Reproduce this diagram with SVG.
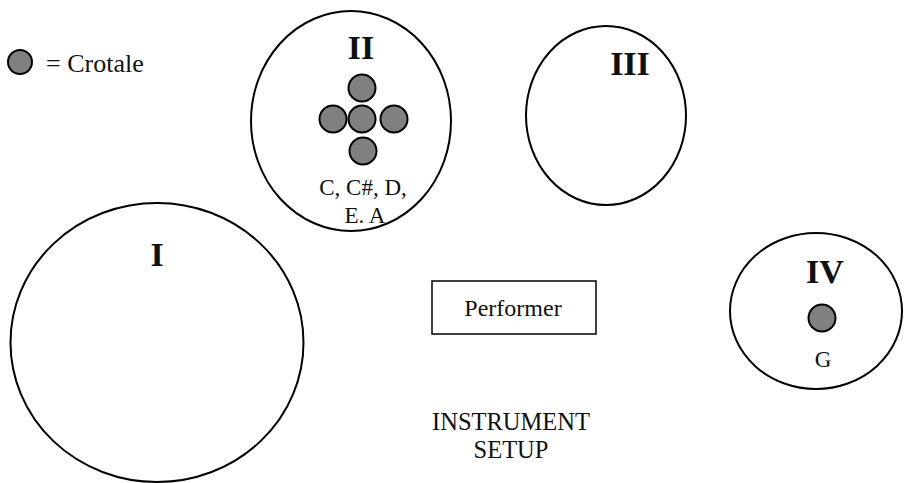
<svg xmlns="http://www.w3.org/2000/svg" width="904" height="483" viewBox="0 0 904 483">
<style>
.area{fill:none;stroke:#000;stroke-width:2}
.crot{fill:#808080;stroke:#000;stroke-width:2}
.t{font-family:"Liberation Serif","Times New Roman",serif;fill:#111}
.num{font-family:"Liberation Serif",serif;font-weight:bold;font-size:34px;text-anchor:middle;fill:#111}
.lab{font-size:23px;text-anchor:middle}
</style>
<rect width="904" height="483" fill="#fff"/>
<g id="legend">
<circle class="crot" cx="20" cy="62" r="12"/>
<text class="t" x="46" y="72" font-size="26">= Crotale</text>
</g>
<g id="area-I">
<ellipse class="area" cx="157" cy="342.5" rx="146.5" ry="139.5"/>
<text class="num" x="157" y="266">I</text>
</g>
<g id="area-II">
<ellipse class="area" cx="351" cy="121" rx="100" ry="110"/>
<text class="num" x="361" y="59">II</text>
<circle class="crot" cx="362" cy="88" r="13.5"/>
<circle class="crot" cx="333" cy="119" r="13.5"/>
<circle class="crot" cx="362" cy="119" r="13.5"/>
<circle class="crot" cx="394" cy="119" r="13.5"/>
<circle class="crot" cx="363" cy="151" r="13.5"/>
<text class="t lab" x="363" y="195">C, C#, D,</text>
<text class="t lab" x="365" y="223">E. A</text>
</g>
<g id="area-III">
<ellipse class="area" cx="606" cy="115.5" rx="80" ry="89.5"/>
<text class="num" x="630" y="75">III</text>
</g>
<g id="area-IV">
<ellipse class="area" cx="816" cy="311" rx="86" ry="78"/>
<text class="num" x="825" y="283">IV</text>
<circle class="crot" cx="822" cy="318" r="13.5"/>
<text class="t lab" x="823" y="367">G</text>
</g>
<g id="performer">
<rect x="432" y="281" width="164" height="53" fill="none" stroke="#000" stroke-width="1.5"/>
<text class="t" x="513" y="316" font-size="24" text-anchor="middle">Performer</text>
</g>
<g id="title">
<text class="t" x="511" y="430" font-size="24.5" text-anchor="middle">INSTRUMENT</text>
<text class="t" x="511" y="458" font-size="24.5" text-anchor="middle">SETUP</text>
</g>
<g id="connectors"/>
</svg>
